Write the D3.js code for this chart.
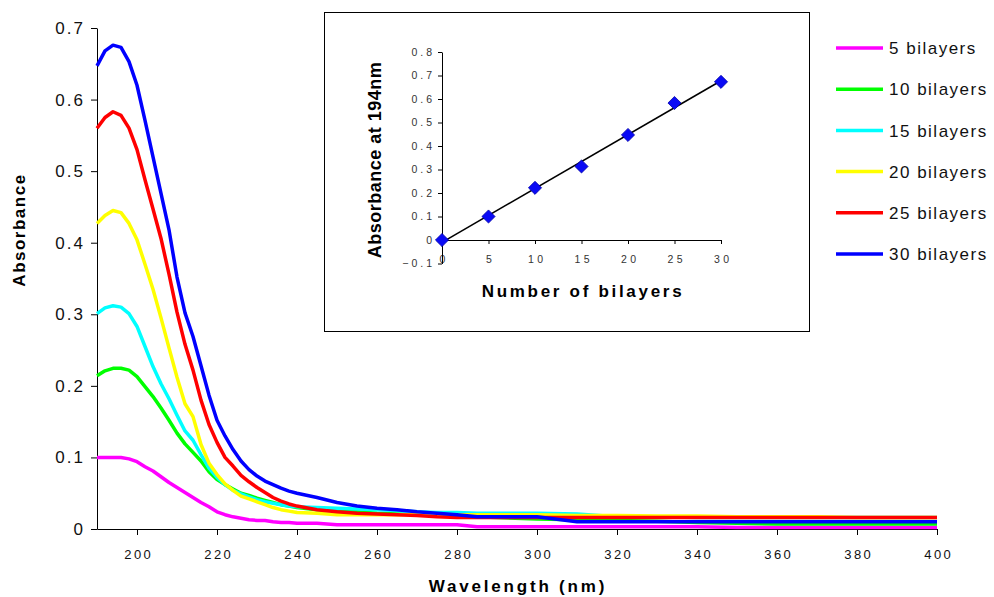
<!DOCTYPE html>
<html>
<head>
<meta charset="utf-8">
<script src="https://cdn.jsdelivr.net/npm/d3@7"></script>
<style>
body{margin:0;background:#fff;}
svg{display:block;font-family:Arial,"Liberation Sans",sans-serif;}
</style>
</head>
<body>
<svg id="chart" width="994" height="597"></svg>
<script>
// spectra
const wavelength = [190,192,194,196,198,200,202,204,206,208,210,212,214,216,218,220,222,224,226,228,230,232,234,236,238,240,
  245,250,255,260,265,270,275,280,285,290,300,310,320,330,340,350,360,370,380,390,400]
const abs5 = [0.100,0.100,0.100,0.100,0.098,0.094,0.087,0.081,0.073,0.065,0.058,0.051,0.044,0.037,0.031,0.024,0.020,0.017,0.015,0.013,0.012,0.012,0.010,0.009,0.009,0.008,
  0.008,0.006,0.006,0.006,0.006,0.006,0.006,0.006,0.003,0.003,0.003,0.003,0.003,0.003,0.003,0.002,0.002,0.002,0.002,0.002,0.002]
const abs10 = [0.214,0.221,0.2245,0.2245,0.222,0.213,0.199,0.185,0.169,0.152,0.134,0.119,0.107,0.095,0.080,0.069,0.062,0.056,0.050,0.047,0.043,0.040,0.037,0.034,0.032,0.030,
  0.027,0.025,0.024,0.022,0.021,0.020,0.019,0.018,0.017,0.016,0.014,0.013,0.012,0.011,0.009,0.008,0.007,0.007,0.007,0.007,0.007]
const abs15 = [0.301,0.309,0.312,0.310,0.301,0.283,0.255,0.227,0.203,0.182,0.159,0.137,0.124,0.104,0.085,0.072,0.062,0.054,0.049,0.045,0.041,0.038,0.036,0.034,0.032,0.031,
  0.030,0.029,0.028,0.027,0.026,0.024,0.023,0.023,0.022,0.022,0.022,0.021,0.017,0.017,0.016,0.016,0.016,0.016,0.016,0.016,0.016]
const abs20 = [0.427,0.438,0.445,0.442,0.427,0.404,0.370,0.335,0.295,0.253,0.212,0.175,0.157,0.118,0.092,0.076,0.063,0.054,0.046,0.042,0.038,0.034,0.030,0.027,0.025,0.023,
  0.022,0.020,0.020,0.020,0.020,0.020,0.020,0.020,0.020,0.020,0.020,0.019,0.019,0.018,0.018,0.017,0.017,0.017,0.016,0.016,0.016]
const abs25 = [0.560,0.575,0.583,0.578,0.560,0.530,0.488,0.447,0.406,0.356,0.303,0.258,0.222,0.180,0.146,0.121,0.100,0.088,0.075,0.066,0.058,0.051,0.044,0.039,0.035,0.032,
  0.027,0.024,0.022,0.021,0.020,0.019,0.017,0.016,0.016,0.016,0.016,0.016,0.016,0.016,0.016,0.016,0.016,0.016,0.016,0.016,0.016]
const abs30 = [0.647,0.668,0.676,0.673,0.653,0.620,0.571,0.520,0.469,0.418,0.352,0.302,0.269,0.228,0.187,0.152,0.130,0.111,0.095,0.083,0.074,0.067,0.062,0.057,0.053,0.050,
  0.044,0.037,0.032,0.029,0.027,0.024,0.022,0.020,0.017,0.017,0.017,0.010,0.010,0.010,0.010,0.010,0.010,0.010,0.010,0.010,0.010]

const seriesNames = ['5 bilayers','10 bilayers','15 bilayers','20 bilayers','25 bilayers','30 bilayers']
const seriesColors = ['#ff00ff','#00ff00','#00ffff','#ffff00','#ff0000','#0000ff']
const seriesValues = [abs5, abs10, abs15, abs20, abs25, abs30]

// inset: absorbance at 194nm vs number of bilayers
const bilayers = [0,5,10,15,20,25,30]
const abs194 = [0,0.100,0.222,0.313,0.447,0.583,0.673]

const xTicks = [200,220,240,260,280,300,320,340,360,380,400]
const yTicks = [0,0.1,0.2,0.3,0.4,0.5,0.6,0.7]
const insetXTicks = [0,5,10,15,20,25,30]
const insetYTicks = [-0.1,0,0.1,0.2,0.3,0.4,0.5,0.6,0.7,0.8]

const svg = d3.select('#chart')
const fmt = (d)=> Math.abs(d) < 1e-9 ? '0' : d3.format('.1f')(d)

// ---------- main chart
const x = d3.scaleLinear().domain([190, 400]).range([97, 937])
const y = d3.scaleLinear().domain([0, 0.7]).range([529, 28])

const xAxis = svg.append('g')
    .attr('transform', 'translate(0,' + y(0) + ')')
    .call(d3.axisBottom(x).tickValues(xTicks).tickSize(6).tickSizeOuter(0).tickPadding(15).tickFormat(d3.format('d')))
xAxis.selectAll('text')
    .style('font-size', '13px').style('letter-spacing', '2.5px')
    .attr('dx', '1.25px').attr('fill', '#111')

const yAxis = svg.append('g')
    .attr('transform', 'translate(' + x(190) + ',0)')
    .call(d3.axisLeft(y).tickValues(yTicks).tickSize(6).tickSizeOuter(0).tickPadding(8).tickFormat(fmt))
yAxis.selectAll('text')
    .style('font-size', '17px').style('letter-spacing', '2px')
    .attr('dx', '2px').attr('fill', '#111')
svg.selectAll('.domain, .tick line').attr('stroke', '#000')

svg.append('text')
    .attr('transform', 'translate(25,230) rotate(-90)')
    .attr('text-anchor', 'middle')
    .style('font-size', '17px').style('font-weight', 'bold').style('letter-spacing', '1.5px')
    .text('Absorbance')
svg.append('text')
    .attr('x', 518).attr('y', 592)
    .attr('text-anchor', 'middle')
    .style('font-size', '17px').style('font-weight', 'bold').style('letter-spacing', '2.8px')
    .text('Wavelength (nm)')

const line = d3.line()
    .x((d)=> x(d[0]))
    .y((d)=> y(d[1]))

seriesValues.forEach((vals, i)=>{
    svg.append('path')
        .datum(wavelength.map((w, j)=> [w, vals[j]]))
        .attr('fill', 'none')
        .attr('stroke', seriesColors[i])
        .attr('stroke-width', 3.5)
        .attr('stroke-linejoin', 'round')
        .attr('d', line)
})

// legend
const legend = svg.append('g')
    .selectAll('g')
    .data(seriesNames)
    .enter()
    .append('g')
    .attr('transform', (d, i)=> 'translate(836,' + (48 + i * 41.2) + ')')
legend.append('line')
    .attr('x1', 0).attr('x2', 47)
    .attr('stroke', (d, i)=> seriesColors[i])
    .attr('stroke-width', 3.5)
legend.append('text')
    .attr('x', 53).attr('dy', '0.36em')
    .style('font-size', '17px').style('letter-spacing', '1.5px')
    .attr('fill', '#111')
    .text((d)=> d)

// ---------- inset
svg.append('rect')
    .attr('x', 324.5).attr('y', 12.5)
    .attr('width', 485).attr('height', 319)
    .attr('fill', '#fff').attr('stroke', '#000').attr('stroke-width', 1)

const ix = d3.scaleLinear().domain([0, 30]).range([442, 721])
const iy = d3.scaleLinear().domain([-0.1, 0.8]).range([263.5, 52])

const ixAxis = svg.append('g')
    .attr('transform', 'translate(0,' + iy(0) + ')')
    .call(d3.axisBottom(ix).tickValues(insetXTicks).tickSize(4).tickSizeOuter(0).tickPadding(12).tickFormat(d3.format('d')))
ixAxis.selectAll('text')
    .style('font-size', '10.5px').style('letter-spacing', '3.5px')
    .attr('dx', '1.75px').attr('fill', '#333')

const iyAxis = svg.append('g')
    .attr('transform', 'translate(' + ix(0) + ',0)')
    .call(d3.axisLeft(iy).tickValues(insetYTicks).tickSize(4).tickSizeOuter(0).tickPadding(6).tickFormat(fmt))
iyAxis.selectAll('text')
    .style('font-size', '10.5px').style('letter-spacing', '3px')
    .attr('dx', '3px').attr('fill', '#333')
svg.selectAll('.domain, .tick line').attr('stroke', '#000')

svg.append('text')
    .attr('transform', 'translate(381,160) rotate(-90)')
    .attr('text-anchor', 'middle')
    .style('font-size', '18px').style('font-weight', 'bold').style('letter-spacing', '0.5px')
    .text('Absorbance at 194nm')
svg.append('text')
    .attr('x', 583).attr('y', 297)
    .attr('text-anchor', 'middle')
    .style('font-size', '17px').style('font-weight', 'bold').style('letter-spacing', '2.7px')
    .text('Number of bilayers')

// linear trend line (least squares)
const mx = d3.mean(bilayers), my = d3.mean(abs194)
const slope = d3.sum(bilayers, (b, i)=> (b - mx) * (abs194[i] - my)) / d3.sum(bilayers, (b)=> (b - mx) * (b - mx))
const intercept = my - slope * mx
const xExt = d3.extent(bilayers)
svg.append('line')
    .attr('x1', ix(xExt[0])).attr('y1', iy(intercept + slope * xExt[0]))
    .attr('x2', ix(xExt[1])).attr('y2', iy(intercept + slope * xExt[1]))
    .attr('stroke', '#000').attr('stroke-width', 1.6)

svg.append('g')
    .selectAll('path')
    .data(bilayers)
    .enter()
    .append('path')
    .attr('d', d3.symbol().type(d3.symbolDiamond2).size(110))
    .attr('transform', (d, i)=> 'translate(' + ix(d) + ',' + iy(abs194[i]) + ')')
    .attr('fill', '#0a0af5')
    .attr('stroke', '#0000a8')
    .attr('stroke-width', 0.8)
</script>
</body>
</html>
